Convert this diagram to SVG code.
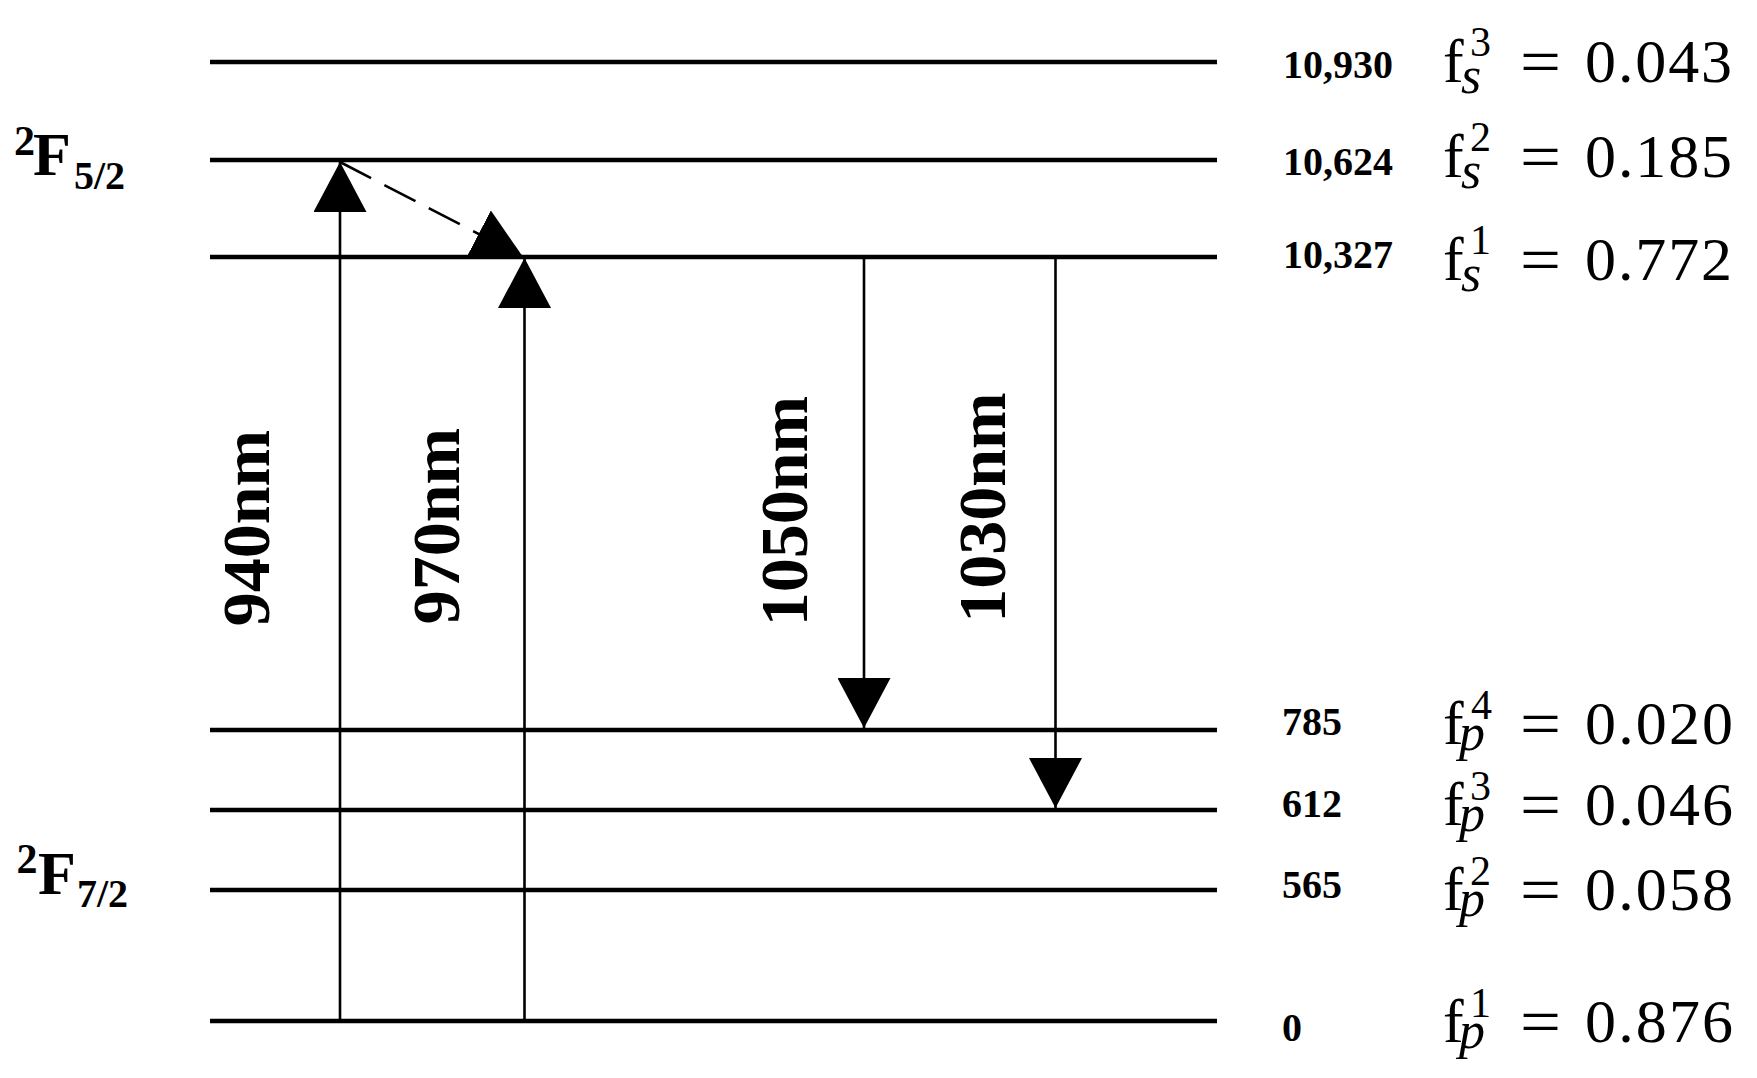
<svg xmlns="http://www.w3.org/2000/svg" width="1757" height="1078" viewBox="0 0 1757 1078">
<style>
.lvl{stroke:#000;stroke-width:4.5;fill:none}
.arr{stroke:#000;stroke-width:2.6;fill:none}
.dash{stroke:#000;stroke-width:2.6;fill:none;stroke-dasharray:35 15}
.num{font-family:"Liberation Serif",serif;font-weight:bold;font-size:40px;fill:#000}
.term{font-family:"Liberation Serif",serif;font-weight:bold;fill:#000}
.wl{font-family:"Liberation Serif",serif;font-weight:bold;font-size:68px;fill:#000;text-anchor:middle}
.m{font-family:"Liberation Serif",serif;font-size:62px;fill:#000}
.eq{font-family:"Liberation Serif",serif;font-size:66px;fill:#000}
.sup{font-family:"Liberation Serif",serif;font-size:42px;fill:#000}
.sub{font-family:"Liberation Serif",serif;font-style:italic;font-size:52px;fill:#000}
</style>
<defs>
<marker id="ah" viewBox="0 0 50 53" refX="50" refY="26.5" markerWidth="50" markerHeight="53" orient="auto" markerUnits="userSpaceOnUse">
<path d="M0,0 L50,26.5 L0,53 Z" fill="#000"/>
</marker>
</defs>
<rect width="1757" height="1078" fill="#fff"/>

<g id="term-F52">
<text class="term" x="14" y="155" font-size="42">2</text>
<text class="term" x="33" y="175" font-size="62">F</text>
<text class="term" x="74" y="189" font-size="40">5/2</text>
</g>
<g id="term-F72">
<text class="term" x="16.5" y="873" font-size="42">2</text>
<text class="term" x="38" y="894" font-size="62">F</text>
<text class="term" x="77" y="907" font-size="40">7/2</text>
</g>

<g id="level-10930">
<line class="lvl" x1="210" y1="62" x2="1217" y2="62"/>
<text class="num" x="1283" y="78">10,930</text>
<text class="m" x="1443" y="82">f</text><text class="sup" x="1470" y="56">3</text><text class="sub" x="1461" y="93">s</text>
<text class="eq" x="1520" y="84" textLength="41" lengthAdjust="spacingAndGlyphs">=</text>
<text class="m" x="1585" y="82" textLength="147" lengthAdjust="spacing">0.043</text>
</g>
<g id="level-10624">
<line class="lvl" x1="210" y1="160" x2="1217" y2="160"/>
<text class="num" x="1283" y="175">10,624</text>
<text class="m" x="1443" y="177">f</text><text class="sup" x="1470" y="151">2</text><text class="sub" x="1461" y="188">s</text>
<text class="eq" x="1520" y="179" textLength="41" lengthAdjust="spacingAndGlyphs">=</text>
<text class="m" x="1585" y="177" textLength="147" lengthAdjust="spacing">0.185</text>
</g>
<g id="level-10327">
<line class="lvl" x1="210" y1="257" x2="1217" y2="257"/>
<text class="num" x="1283" y="268">10,327</text>
<text class="m" x="1443" y="280">f</text><text class="sup" x="1470" y="254">1</text><text class="sub" x="1461" y="291">s</text>
<text class="eq" x="1520" y="282" textLength="41" lengthAdjust="spacingAndGlyphs">=</text>
<text class="m" x="1585" y="280" textLength="147" lengthAdjust="spacing">0.772</text>
</g>
<g id="level-785">
<line class="lvl" x1="210" y1="730" x2="1217" y2="730"/>
<text class="num" x="1282" y="735">785</text>
<text class="m" x="1443" y="744">f</text><text class="sup" x="1471" y="719">4</text><text class="sub" x="1459" y="750">p</text>
<text class="eq" x="1520" y="746" textLength="41" lengthAdjust="spacingAndGlyphs">=</text>
<text class="m" x="1585" y="744" textLength="148" lengthAdjust="spacing">0.020</text>
</g>
<g id="level-612">
<line class="lvl" x1="210" y1="810" x2="1217" y2="810"/>
<text class="num" x="1282" y="817">612</text>
<text class="m" x="1443" y="825">f</text><text class="sup" x="1470" y="800">3</text><text class="sub" x="1459" y="831">p</text>
<text class="eq" x="1520" y="827" textLength="41" lengthAdjust="spacingAndGlyphs">=</text>
<text class="m" x="1585" y="825" textLength="148" lengthAdjust="spacing">0.046</text>
</g>
<g id="level-565">
<line class="lvl" x1="210" y1="890" x2="1217" y2="890"/>
<text class="num" x="1282" y="898">565</text>
<text class="m" x="1443" y="910">f</text><text class="sup" x="1470" y="885">2</text><text class="sub" x="1459" y="916">p</text>
<text class="eq" x="1520" y="912" textLength="41" lengthAdjust="spacingAndGlyphs">=</text>
<text class="m" x="1585" y="910" textLength="148" lengthAdjust="spacing">0.058</text>
</g>
<g id="level-0">
<line class="lvl" x1="210" y1="1021" x2="1217" y2="1021"/>
<text class="num" x="1282" y="1041">0</text>
<text class="m" x="1443" y="1042">f</text><text class="sup" x="1470" y="1017">1</text><text class="sub" x="1459" y="1048">p</text>
<text class="eq" x="1520" y="1044" textLength="41" lengthAdjust="spacingAndGlyphs">=</text>
<text class="m" x="1585" y="1042" textLength="148" lengthAdjust="spacing">0.876</text>
</g>

<g id="connectors">
<line class="arr" x1="340" y1="1021" x2="340" y2="162" marker-end="url(#ah)"/>
<line class="arr" x1="524.5" y1="1021" x2="524.5" y2="258" marker-end="url(#ah)"/>
<line class="arr" x1="864" y1="257" x2="864" y2="728" marker-end="url(#ah)"/>
<line class="arr" x1="1055.5" y1="257" x2="1055.5" y2="808" marker-end="url(#ah)"/>
<line class="dash" x1="340" y1="162" x2="523" y2="257" marker-end="url(#ah)"/>
<text class="wl" transform="translate(269,528) rotate(-90)">940nm</text>
<text class="wl" transform="translate(459,526) rotate(-90)">970nm</text>
<text class="wl" transform="translate(807,511) rotate(-90)">1050nm</text>
<text class="wl" transform="translate(1005,507.5) rotate(-90)">1030nm</text>
</g>
</svg>
